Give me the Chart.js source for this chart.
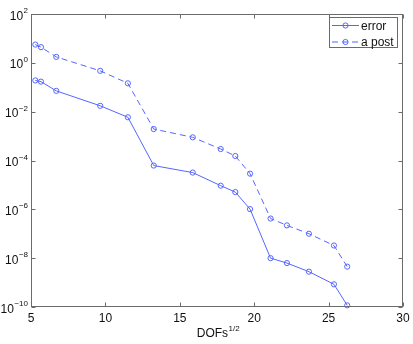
<!DOCTYPE html>
<html>
<head>
<meta charset="utf-8">
<script src="https://cdn.jsdelivr.net/npm/chart.js@4.4.1/dist/chart.umd.min.js"></script>
<style>
html,body{margin:0;padding:0;background:#fff;}
#wrap{width:413px;height:344px;position:relative;}
</style>
</head>
<body>
<div id="wrap"><canvas id="c" width="413" height="344"></canvas></div>
<script>
// ---- data ----
const dofsSqrt = [5.29, 5.67, 6.70, 9.65, 11.51, 13.25, 15.87, 17.75, 18.73, 19.72, 21.1, 22.2, 23.68, 25.36, 26.25];
const errorVals = [0.19, 0.17, 0.071, 0.0174, 0.0059, 6.2e-5, 3.2e-5, 9.3e-6, 5.1e-6, 1.02e-6, 1.0e-8, 6.3e-9, 2.8e-9, 8.5e-10, 1.17e-10];
const aPostVals = [5.6, 4.4, 1.75, 0.47, 0.145, 1.94e-3, 8.9e-4, 2.95e-4, 1.53e-4, 2.9e-5, 4.2e-7, 2.2e-7, 1.0e-7, 3.3e-8, 4.5e-9];
const seriesNames = ['error', 'a post'];
const xTickValues = [5, 10, 15, 20, 25, 30];
const yTickExponents = [2, 0, -2, -4, -6, -8, -10];
const xTitleBase = 'DOFs';
const xTitleSup = '1/2';

const FONT = '"Liberation Sans", Arial, Helvetica, sans-serif';
const LINE = '#5566ff';
const AXIS = '#6b6b6b';

const toPts = (xs, ys) => xs.map((x, i) => ({x: x, y: ys[i]}));

const boxPlugin = {
  id: 'matlabBox',
  afterDraw(chart) {
    const ctx = chart.ctx;
    const a = chart.chartArea;
    const xs = chart.scales.x, ys = chart.scales.y;
    ctx.save();
    ctx.strokeStyle = AXIS;
    ctx.lineWidth = 1;
    const L = Math.round(a.left) + 0.5, R = Math.round(a.right) - 0.5;
    const T = Math.round(a.top) + 0.5, B = Math.round(a.bottom) - 0.5;
    ctx.strokeRect(L, T, R - L, B - T);
    const tl = 4;
    ctx.beginPath();
    xTickValues.forEach(v => {
      const px = Math.round(xs.getPixelForValue(v)) + 0.5;
      ctx.moveTo(px, B); ctx.lineTo(px, B - tl);
      ctx.moveTo(px, T); ctx.lineTo(px, T + tl);
    });
    yTickExponents.forEach(e => {
      const py = Math.round(ys.getPixelForValue(Math.pow(10, e))) + 0.5;
      ctx.moveTo(L, py); ctx.lineTo(L + tl, py);
      ctx.moveTo(R, py); ctx.lineTo(R - tl, py);
    });
    ctx.stroke();

    ctx.fillStyle = '#111';
    ctx.textBaseline = 'alphabetic';
    // x tick labels
    ctx.font = '12px ' + FONT;
    ctx.textAlign = 'center';
    xTickValues.forEach(v => {
      const px = xs.getPixelForValue(v);
      ctx.fillText(String(v), px, 322);
    });

    // y tick labels 10^e
    yTickExponents.forEach(e => {
      const py = ys.getPixelForValue(Math.pow(10, e));
      const sup = e < 0 ? '\u2212' + Math.abs(e) : String(e);
      ctx.font = '8px ' + FONT;
      const wSup = ctx.measureText(sup).width;
      ctx.font = '12px ' + FONT;
      const wBase = ctx.measureText('10').width;
      const xEnd = a.left - 3;
      const xBase = xEnd - wSup - wBase - 0.5;
      ctx.textAlign = 'left';
      ctx.fillText('10', xBase, py + 5.5);
      ctx.font = '8px ' + FONT;
      ctx.fillText(sup, xBase + wBase + 0.5, py - 1);
    });

    // x axis title DOFs^{1/2}
    ctx.textAlign = 'left';
    ctx.font = '12px ' + FONT;
    const wb = ctx.measureText(xTitleBase).width;
    ctx.font = '8px ' + FONT;
    const ws = ctx.measureText(xTitleSup).width;
    const cx = (a.left + a.right) / 2 + 1;
    const x0 = cx - (wb + ws) / 2;
    ctx.font = '12px ' + FONT;
    ctx.fillText(xTitleBase, x0, 337);
    ctx.font = '8px ' + FONT;
    ctx.fillText(xTitleSup, x0 + wb + 0.5, 331);

    // legend inside upper right
    const lx = 329.5, ly = 17.5, lw = 68, lh = 30;
    ctx.fillStyle = '#fff';
    ctx.fillRect(lx, ly, lw, lh);
    ctx.strokeStyle = AXIS;
    ctx.strokeRect(lx, ly, lw, lh);
    chart.data.datasets.forEach((ds, i) => {
      const yy = ly + 8 + i * 16.5;
      ctx.strokeStyle = ds.borderColor;
      ctx.lineWidth = 1;
      ctx.setLineDash(ds.borderDash || []);
      ctx.beginPath();
      ctx.moveTo(332, yy); ctx.lineTo(359, yy);
      ctx.stroke();
      ctx.setLineDash([]);
      ctx.beginPath();
      ctx.arc(345.5, yy, 2.6, 0, Math.PI * 2);
      ctx.stroke();
      ctx.fillStyle = '#111';
      ctx.font = '12px ' + FONT;
      ctx.textAlign = 'left';
      ctx.fillText(ds.label, 361, yy + 4);
    });
    ctx.restore();
  }
};

new Chart(document.getElementById('c'), {
  type: 'line',
  data: {
    datasets: [
      {
        label: seriesNames[0],
        data: toPts(dofsSqrt, errorVals),
        borderColor: LINE, borderWidth: 1,
        pointStyle: 'circle', pointRadius: 2.6, pointBorderWidth: 1,
        pointBackgroundColor: 'rgba(0,0,0,0)', pointBorderColor: LINE,
        tension: 0, clip: false, fill: false
      },
      {
        label: seriesNames[1],
        data: toPts(dofsSqrt, aPostVals),
        borderColor: LINE, borderWidth: 1, borderDash: [6, 4],
        pointStyle: 'circle', pointRadius: 2.6, pointBorderWidth: 1,
        pointBackgroundColor: 'rgba(0,0,0,0)', pointBorderColor: LINE,
        tension: 0, clip: false, fill: false
      }
    ]
  },
  options: {
    responsive: false,
    animation: false,
    devicePixelRatio: 1,
    layout: {padding: {left: 0, top: 14, right: 10, bottom: 0}},
    plugins: {legend: {display: false}, tooltip: {enabled: false}},
    scales: {
      x: {
        type: 'linear', min: 5, max: 30,
        grid: {display: false}, border: {display: false},
        afterBuildTicks: s => { s.ticks = xTickValues.map(v => ({value: v})); },
        ticks: {display: false},
        afterFit: s => { s.height = 37; }
      },
      y: {
        type: 'logarithmic', min: 1e-10, max: 1e2,
        grid: {display: false}, border: {display: false},
        afterBuildTicks: s => { s.ticks = yTickExponents.map(e => ({value: Math.pow(10, e)})); },
        ticks: {display: false},
        afterFit: s => { s.width = 31; }
      }
    }
  },
  plugins: [boxPlugin]
});
</script>
</body>
</html>
